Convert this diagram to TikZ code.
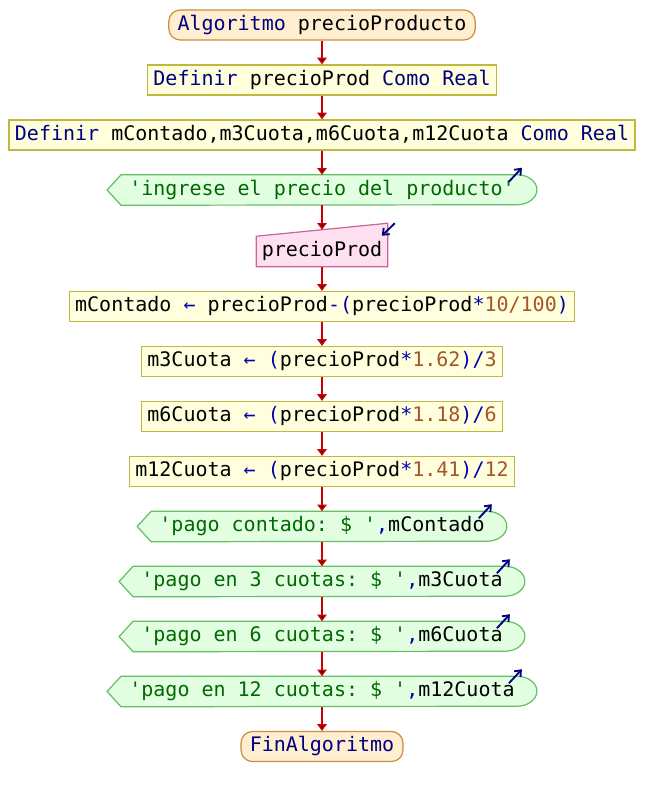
\documentclass[tikz,border=0pt]{standalone}
\usepackage{fontspec}
\setmonofont{DejaVu Sans Mono}
\usepackage{xcolor}
\usepackage{tikz}
\usetikzlibrary{positioning,arrows.meta,backgrounds}

\definecolor{kwcol}{RGB}{0,0,128}
\definecolor{opcol}{RGB}{0,0,170}
\definecolor{strcol}{RGB}{0,105,0}
\definecolor{numcol}{RGB}{165,85,40}
\definecolor{flowred}{RGB}{204,0,0}
\definecolor{termfill}{RGB}{255,238,208}
\definecolor{termline}{RGB}{205,140,60}
\definecolor{procfill}{RGB}{255,255,221}
\definecolor{procline}{RGB}{192,184,64}
\definecolor{outfill}{RGB}{226,255,226}
\definecolor{outline}{RGB}{100,190,100}
\definecolor{infill}{RGB}{255,224,240}
\definecolor{inline}{RGB}{200,100,150}

\newcommand{\kw}[1]{\textcolor{kwcol}{#1}}
\newcommand{\oper}[1]{\textcolor{opcol}{#1}}
\newcommand{\strg}[1]{\textcolor{strcol}{#1}}
\newcommand{\numb}[1]{\textcolor{numcol}{#1}}

\begin{document}
\begin{tikzpicture}[x=0.75pt, y=0.75pt, node distance=41.25pt,
    font=\ttfamily\fontsize{15}{18}\selectfont,
    box/.style={minimum height=22.5pt, inner ysep=0pt, text height=11pt, text depth=3.5pt},
    terminal/.style={box, draw=termline, fill=termfill, line width=0.9pt, rounded corners=8.5pt, inner xsep=6.5pt},
    process/.style={box, draw=procline, fill=procfill, line width=0.9pt, inner xsep=4.5pt},
    outnode/.style={box, inner xsep=16.5pt},
    innode/.style={box, inner xsep=4pt},
    outshape/.style={draw=outline, fill=outfill, line width=0.9pt},
    inshape/.style={draw=inline, fill=infill, line width=0.9pt},
    flow/.style={draw=flowred, line width=1.5pt, -{Triangle[width=7pt,length=5pt]}},
    nub/.style={draw=kwcol, line width=1.4pt, -{Straight Barb[length=4pt,width=6.5pt]}}]
        \useasboundingbox (0,0) rectangle (644,-796);

        \node[terminal] (start) at (322,-25) {\kw{Algoritmo} precioProducto};
        \node[process] (defprecio) [below of=start] {\kw{Definir} precioProd \kw{Como} \kw{Real}};
        \node[process] (defmontos) [below of=defprecio] {\kw{Definir} mContado,m3Cuota,m6Cuota,m12Cuota \kw{Como} \kw{Real}};
        \node[outnode] (msgingreso) [below of=defmontos] {\strg{'ingrese el precio del producto'}};
        \node[innode] (leerprecio) [below of=msgingreso, yshift=-4.875pt] {precioProd};
        \coordinate (leertope) at ([yshift=4.875pt]leerprecio.north);

        \node[process] (calccontado) [below of=leerprecio] {mContado \oper{←} precioProd\oper{-(}precioProd\oper{*}\numb{10/100}\oper{)}};
        \node[process] (calc3) [below of=calccontado] {m3Cuota \oper{←} \oper{(}precioProd\oper{*}\numb{1.62}\oper{)/}\numb{3}};
        \node[process] (calc6) [below of=calc3] {m6Cuota \oper{←} \oper{(}precioProd\oper{*}\numb{1.18}\oper{)/}\numb{6}};
        \node[process] (calc12) [below of=calc6] {m12Cuota \oper{←} \oper{(}precioProd\oper{*}\numb{1.41}\oper{)/}\numb{12}};

        \node[outnode] (outcontado) [below of=calc12] {\strg{'pago contado: \$ '}\oper{,}mContado};
        \node[outnode] (out3) [below of=outcontado] {\strg{'pago en 3 cuotas: \$ '}\oper{,}m3Cuota};
        \node[outnode] (out6) [below of=out3] {\strg{'pago en 6 cuotas: \$ '}\oper{,}m6Cuota};
        \node[outnode] (out12) [below of=out6] {\strg{'pago en 12 cuotas: \$ '}\oper{,}m12Cuota};
        \node[terminal] (fin) [below of=out12] {\kw{FinAlgoritmo}};

        % shapes of the output and input blocks
        \begin{scope}[on background layer]
          \foreach \n in {msgingreso,outcontado,out3,out6,out12}
            \draw[outshape] ([xshift=10.5pt]\n.north west) -- ([xshift=-15pt]\n.north east)
              arc[start angle=90, end angle=-90, x radius=15pt, y radius=11.25pt]
              -- ([xshift=10.5pt]\n.south west) -- (\n.west) -- cycle;
          \draw[inshape] (leerprecio.south west) -- (leerprecio.north west)
            -- ([yshift=9.75pt]leerprecio.north east) -- (leerprecio.south east) -- cycle;
        \end{scope}

        % small arrows on the output and input blocks
        \foreach \n in {msgingreso,outcontado,out3,out6,out12}
          \draw[nub] ([shift={(-28,-7)}]\n.north east) -- ([shift={(-15,7)}]\n.north east);
        \draw[nub] ([shift={(7,13)}]leerprecio.north east) -- ([shift={(-6,0.5)}]leerprecio.north east);

        \path[flow]
          % start and definitions
          (start) edge (defprecio)
          (defprecio) edge (defmontos)
          (defmontos) edge (msgingreso)

          % reading the price
          (msgingreso) edge (leertope)
          (leerprecio) edge (calccontado)

          % calculations
          (calccontado) edge (calc3)
          (calc3) edge (calc6)
          (calc6) edge (calc12)
          (calc12) edge (outcontado)

          % outputs and end
          (outcontado) edge (out3)
          (out3) edge (out6)
          (out6) edge (out12)
          (out12) edge (fin);
\end{tikzpicture}
\end{document}
